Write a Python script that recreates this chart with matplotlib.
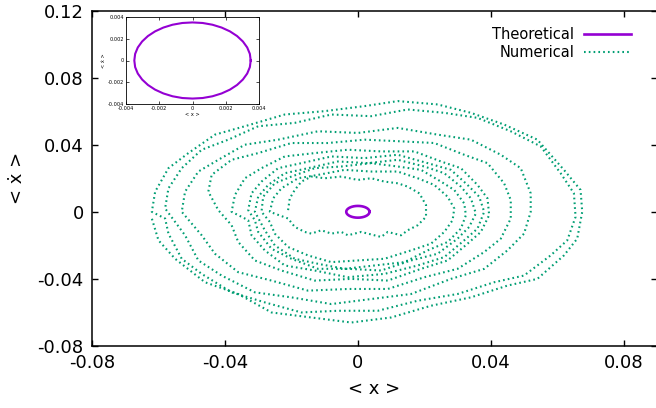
import numpy as np
import matplotlib
matplotlib.use("Agg")
import matplotlib.pyplot as plt

# ---------------- data (values in units of 1e-3) ----------------
# theoretical orbit
theory_x = [3.5, 3.45, 3.29, 3.03, 2.68, 2.25, 1.75, 1.20, 0.61, 0, -0.61, -1.20, -1.75, -2.25,
            -2.68, -3.03, -3.29, -3.45, -3.5, -3.45, -3.29, -3.03, -2.68, -2.25, -1.75, -1.20,
            -0.61, 0, 0.61, 1.20, 1.75, 2.25, 2.68, 3.03, 3.29, 3.45, 3.5]
theory_y = [0, 0.61, 1.20, 1.75, 2.25, 2.68, 3.03, 3.29, 3.45, 3.5, 3.45, 3.29, 3.03, 2.68,
            2.25, 1.75, 1.20, 0.61, 0, -0.61, -1.20, -1.75, -2.25, -2.68, -3.03, -3.29,
            -3.45, -3.5, -3.45, -3.29, -3.03, -2.68, -2.25, -1.75, -1.20, -0.61, 0]

# numerical trajectory, loop by loop (inner to outer)
loop10_x = [-21, -20.5, -19, -17, -14, -10, -5, 0, 4, 8, 12, 15, 18.5, 20.5, 20.5, 18, 15, 13, 9, 7, 3, 1, -3, -5, -8, -11, -14, -16, -19, -21]
loop10_y = [1, 8, 13, 18, 21, 20, 21, 19, 20, 18, 17, 15, 11, 4, -3, -8, -11, -14, -12, -15, -13, -12, -14, -12, -13, -11, -13, -12, -9, -4]

loop9_x = [-26.5, -25.5, -23, -18, -12, -4, 4, 12, 18, 23, 27, 29, 28.5, 26, 22, 16, 8, 0, -8, -15, -21, -25, -26.5]
loop9_y = [0, 8, 14, 20, 22, 25, 24, 24, 20, 16, 9, 2, -5, -12, -19, -23, -28, -29, -30, -26, -21, -13, -6]

loop8_x = [-29, -28.5, -25, -20, -13, -5, 4, 12, 19, 25, 29, 32, 32.5, 31, 27, 21, 14, 5, -4, -12, -19, -25, -28]
loop8_y = [0, 9, 17, 21, 26, 27, 29, 27, 25, 18, 13, 5, -2, -10, -18, -23, -30, -32, -34, -31, -28, -20, -11]

loop7_x = [-31, -30, -27, -22, -15, -6, 3, 12, 20, 26, 31, 34, 35.5, 33.5, 30, 24, 16, 7, -3, -12, -20, -26, -30, -31]
loop7_y = [0, 9, 16, 23, 26, 30, 29, 31, 27, 23, 15, 8, -1, -9, -16, -25, -29, -35, -34, -34, -28, -22, -12, -5]

loop6_x = [-33, -32, -29, -24, -17, -8, 2, 12, 21, 28, 33, 36.5, 38, 36, 32, 26, 18, 8, -3, -13, -22, -28, -32, -33]
loop6_y = [1, 11, 18, 26, 29, 33, 32, 34, 29, 25, 16, 9, 0, -10, -17, -27, -32, -37, -39, -35, -32, -23, -14, -5]

loop5_x = [-38, -37, -34, -29, -22, -13, -3, 7, 17, 25, 31, 36, 39, 39.5, 37, 33, 27, 19, 9, -2, -13, -23, -31, -36, -38]
loop5_y = [0, 10, 20, 26, 33, 35, 37, 36, 36, 30, 26, 16, 8, -2, -12, -19, -29, -34, -41, -40, -41, -35, -29, -18, -8]

loop4_x = [-42, -45, -44, -38, -30, -20, -9, 2, 13, 23, 32, 39, 44, 46, 46, 43, 38, 30, 20, 9, -3, -15, -26, -36, -43, -47]
loop4_y = [1, 12, 22, 31, 35, 41, 41, 43, 42, 41, 34, 29, 17, 7, -4, -16, -24, -34, -39, -46, -46, -47, -41, -36, -25, -14]

loop3_x = [-53, -52, -48, -42, -34, -24, -12, 0, 12, 24, 34, 43, 49, 52, 52, 50, 45, 38, 28, 16, 4, -8, -20, -31, -41, -48, -52]
loop3_y = [0, 12, 24, 31, 40, 43, 48, 47, 50, 46, 43, 34, 26, 11, 0, -13, -23, -34, -40, -49, -52, -55, -51, -48, -38, -29, -14]

loop2_x = [-58, -57, -53, -47, -39, -30, -19, -8, 4, 15, 26, 36, 46, 55, 61, 65, 65.5, 63, 58, 50, 41, 30, 18, 6, -6, -17, -28, -38, -47, -53, -57, -58]
loop2_y = [2, 14, 26, 37, 43, 51, 53, 58, 57, 61, 59, 56, 48, 39, 23, 11, -3, -17, -26, -38, -42, -49, -53, -59, -59, -60, -54, -48, -37, -28, -13, -4]

loop1_x = [-62, -61, -57, -51, -43, -34, -22, -10, 2, 12, 24, 34, 44, 54, 62, 67, 67.5, 66, 62, 54, 45, 34, 22, 10, -2, -14, -26, -36, -46, -55, -60, -62]
loop1_y = [0, 12, 26, 35, 46, 51, 58, 60, 63, 66, 64, 59, 52, 43, 25, 13, 0, -16, -26, -40, -44, -51, -56, -63, -66, -63, -60, -49, -42, -28, -17, -4]

loops_x = [loop10_x, loop9_x, loop8_x, loop7_x, loop6_x, loop5_x, loop4_x, loop3_x, loop2_x, loop1_x]
loops_y = [loop10_y, loop9_y, loop8_y, loop7_y, loop6_y, loop5_y, loop4_y, loop3_y, loop2_y, loop1_y]

main_xticks = [-0.08, -0.04, 0, 0.04, 0.08]
main_xticklabels = ["-0.08", "-0.04", "0", "0.04", "0.08"]
main_yticks = [-0.08, -0.04, 0, 0.04, 0.08, 0.12]
main_yticklabels = ["-0.08", "-0.04", "0", "0.04", "0.08", "0.12"]
inset_ticks = [-0.004, -0.002, 0, 0.002, 0.004]
inset_ticklabels = ["-0.004", "-0.002", "0", "0.002", "0.004"]

PURPLE = "#9400d3"
GREEN = "#009e73"
UNIT = 1e-3

num_x = np.concatenate([np.asarray(l, float) for l in loops_x]) * UNIT
num_y = np.concatenate([np.asarray(l, float) for l in loops_y]) * UNIT
th_x = np.asarray(theory_x) * UNIT
th_y = np.asarray(theory_y) * UNIT

W, H = 656, 408
fig = plt.figure(figsize=(W / 100, H / 100), dpi=100)

ax = fig.add_axes([92 / W, 62 / H, 565 / W, 335.5 / H])
ax.plot(th_x, th_y, color=PURPLE, lw=1.9, label="Theoretical", zorder=3)
ax.plot(num_x, num_y, color=GREEN, lw=1.5, ls=(0, (0.8, 1.5)), label="Numerical", zorder=2)
ax.set_xlim(-0.08, 0.09)
ax.set_ylim(-0.08, 0.12)
ax.set_xticks(main_xticks)
ax.set_xticklabels(main_xticklabels)
ax.set_yticks(main_yticks)
ax.set_yticklabels(main_yticklabels)
ax.tick_params(direction="in", length=4.5, width=1.0, labelsize=13, top=True, right=True, pad=6)
for s in ax.spines.values():
    s.set_linewidth(1.1)

leg = ax.legend(loc="upper right", bbox_to_anchor=(631 / W, 1 - 27 / H),
                bbox_transform=fig.transFigure, frameon=False, markerfirst=False,
                fontsize=10.5, handlelength=3.2, handletextpad=0.7, labelspacing=0.2,
                borderpad=0, borderaxespad=0)

fig.text(17 / W, 1 - 178 / H, "< ẋ >", rotation=90, ha="center", va="center", fontsize=13)
fig.text(374.5 / W, 1 - 389 / H, "< x >", ha="center", va="center", fontsize=13)

# inset
axin = fig.add_axes([126 / W, 1 - 104 / H, 133 / W, 87 / H])
axin.plot(th_x, th_y, color=PURPLE, lw=1.5)
axin.set_xlim(-0.004, 0.004)
axin.set_ylim(-0.004, 0.004)
axin.set_xticks(inset_ticks)
axin.set_xticklabels(inset_ticklabels)
axin.set_yticks(inset_ticks)
axin.set_yticklabels(inset_ticklabels)
axin.tick_params(direction="in", length=2, width=0.5, labelsize=3.6, top=True, right=True, pad=1.5)
for s in axin.spines.values():
    s.set_linewidth(0.6)
axin.set_xlabel("< x >", fontsize=3.6, labelpad=1)
axin.set_ylabel("< ẋ >", fontsize=3.6, labelpad=1)

fig.savefig("out.png", dpi=100)
